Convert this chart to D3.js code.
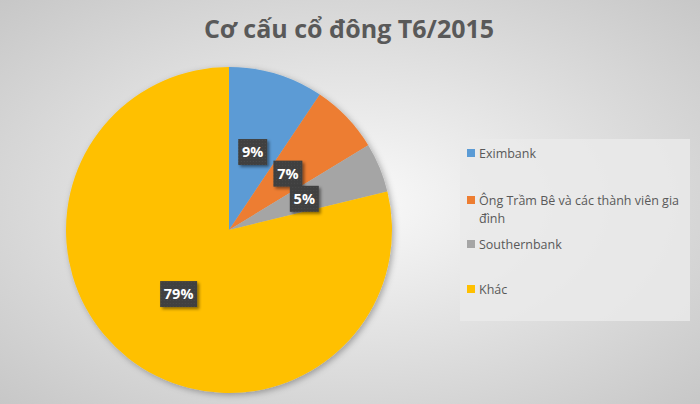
<!DOCTYPE html>
<html><head><meta charset="utf-8">
<script src="https://cdn.jsdelivr.net/npm/d3@7/dist/d3.min.js"></script>
<style>html,body{margin:0;padding:0;background:#ddd;}svg{display:block;}</style>
</head><body><svg id="c" width="700" height="404"></svg>
<script>
const title = "Cơ cấu cổ đông T6/2015";
const categories = ["Eximbank", "Ông Trầm Bê và các thành viên gia đình", "Southernbank", "Khác"];
const legendLines = [["Eximbank"], ["Ông Trầm Bê và các thành viên gia", "đình"], ["Southernbank"], ["Khác"]];
const values = [9.4, 6.9, 4.9, 78.8];
const colors = ["#5B9BD5", "#ED7D31", "#A5A5A5", "#FFC000"];

const W = 700, H = 404;
const svg = d3.select("#c");
const defs = svg.append("defs");
const bg = defs.append("radialGradient").attr("id","bg").attr("cx","50%").attr("cy","50%").attr("r","75%");
bg.append("stop").attr("offset","0%").attr("stop-color","#fafafa");
bg.append("stop").attr("offset","100%").attr("stop-color","#c4c4c4");
const pat = defs.append("pattern").attr("id","dots").attr("width",3).attr("height",3).attr("patternUnits","userSpaceOnUse");
pat.append("rect").attr("width",3).attr("height",3).attr("fill","#3f3f3f");
pat.append("rect").attr("width",1).attr("height",1).attr("fill","#4c4c4c");
const sh = defs.append("filter").attr("id","sh").attr("x","-20%").attr("y","-20%").attr("width","150%").attr("height","150%");
sh.append("feDropShadow").attr("dx",2).attr("dy",2).attr("stdDeviation",3).attr("flood-color","#000").attr("flood-opacity",0.3);
const sh2 = defs.append("filter").attr("id","sh2").attr("x","-30%").attr("y","-30%").attr("width","170%").attr("height","170%");
sh2.append("feDropShadow").attr("dx",2).attr("dy",2).attr("stdDeviation",1.5).attr("flood-color","#000").attr("flood-opacity",0.45);

svg.append("rect").attr("width",W).attr("height",H).attr("fill","url(#bg)");

svg.append("text").attr("x",349).attr("y",38).attr("text-anchor","middle")
  .attr("font-family","'Open Sans', sans-serif").attr("font-weight","bold").attr("font-size",25)
  .attr("fill","#595959").text(title);

const cx = 229, cy = 230, R = 163;
const pie = d3.pie().sort(null).value(d => d)(values);
const arc = d3.arc().innerRadius(0).outerRadius(R);
const labelArc = d3.arc().innerRadius(R/2).outerRadius(R/2);
const g = svg.append("g").attr("transform",`translate(${cx},${cy})`);
g.append("g").attr("filter","url(#sh)").selectAll("path").data(pie).join("path")
  .attr("d",arc).attr("fill",(d,i)=>colors[i]);

const total = d3.sum(values);
const lg = g.selectAll("g.lbl").data(pie).join("g").attr("class","lbl")
  .attr("transform", d => `translate(${labelArc.centroid(d)})`);
lg.each(function(d){
  const txt = Math.round(d.value/total*100) + "%";
  const w = txt.length > 2 ? 37 : 29, h = 26;
  const s = d3.select(this);
  s.append("rect").attr("x",-w/2).attr("y",-h/2).attr("width",w).attr("height",h)
    .attr("fill","url(#dots)").attr("filter","url(#sh2)");
  s.append("text").attr("text-anchor","middle").attr("dy","0.36em")
    .attr("font-family","'Open Sans', sans-serif").attr("font-weight","bold").attr("font-size",14.5)
    .attr("fill","#ffffff").text(txt);
});

// legend
svg.append("rect").attr("x",460).attr("y",139).attr("width",230).attr("height",182).attr("fill","#eaeaea").attr("opacity",0.85);
const legY = [153, 200, 244, 289];
const leg = svg.selectAll("g.leg").data(categories).join("g").attr("class","leg");
leg.append("rect").attr("x",467).attr("y",(d,i)=>legY[i]-4).attr("width",8).attr("height",8).attr("fill",(d,i)=>colors[i]);
leg.each(function(d,i){
  const t = d3.select(this).append("text").attr("font-family","'Open Sans', sans-serif").attr("font-size",12.5).attr("fill","#595959");
  legendLines[i].forEach((ln,j)=>{
    t.append("tspan").attr("x",479).attr("y",legY[i]+4.5+j*18).text(ln);
  });
});
</script></body></html>
